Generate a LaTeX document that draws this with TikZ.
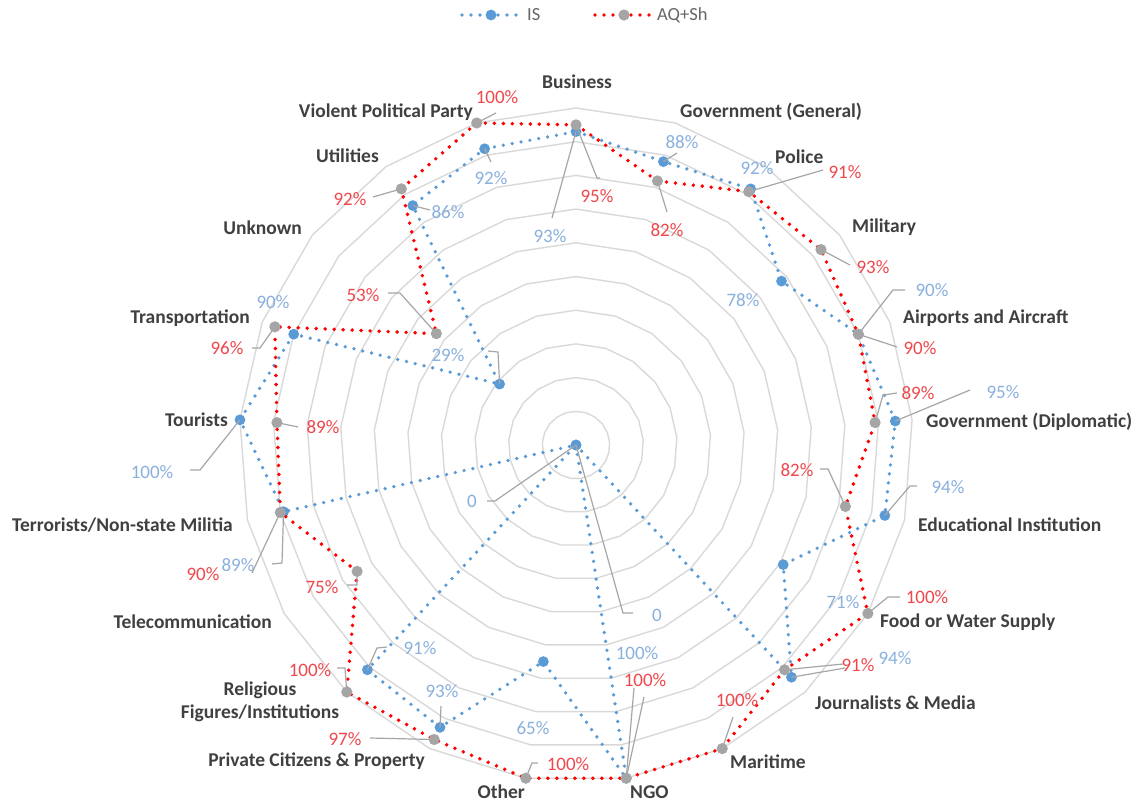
\documentclass[tikz,border=0pt]{standalone}
\usepackage{fontspec}
\setmainfont{Carlito}
\usetikzlibrary{calc}
\definecolor{isblue}{HTML}{5B9BD5}
\definecolor{aqred}{HTML}{FF0000}
\definecolor{aqgray}{HTML}{A5A5A5}
\definecolor{gridgray}{HTML}{D9D9D9}
\definecolor{leadgray}{HTML}{A6A6A6}
\definecolor{catcol}{HTML}{404040}
\definecolor{bluetxt}{HTML}{8AB0DE}
\definecolor{redtxt}{HTML}{F0474C}
\begin{document}
\begin{tikzpicture}[x=1pt,y=-1pt,
  gridline/.style={draw=gridgray,line width=1.4pt},
  isline/.style={draw=isblue,line width=3.7pt,line cap=round,dash pattern=on 0pt off 9pt},
  aqline/.style={draw=aqred,line width=3.9pt,line cap=round,dash pattern=on 0pt off 9pt},
  leader/.style={draw=leadgray,line width=1.2pt},
  cat/.style={font=\fontsize{19.5}{23}\selectfont\bfseries,text=catcol,inner sep=0pt,align=center},
  pb/.style={font=\fontsize{19}{22}\selectfont,text=bluetxt,inner sep=0pt},
  pr/.style={font=\fontsize{19}{22}\selectfont,text=redtxt,inner sep=0pt},
  legtxt/.style={font=\fontsize{18.5}{20}\selectfont,text=black!60,inner sep=0pt}]
\useasboundingbox (0,0) rectangle (1140,803);
\fill[white] (0,0) rectangle (1140,803);
\coordinate (C) at (576,445);
% grid rings
\foreach \k in {1,...,10}
  \draw[gridline,shift={(C)}] (90:{\k*33.7pt}) \foreach \i in {1,...,20} {-- ({90-\i*360/21}:{\k*33.7pt})} -- cycle;
% data coordinates
\foreach \v [count=\i from 0] in {93,88,92,78,90,95,94,71,94,0,100,65,93,91,0,89,100,90,29,86,92}
  \coordinate (b\i) at ($(C)+({90-\i*360/21}:{\v*3.37pt})$);
\foreach \v [count=\i from 0] in {95,82,91,93,90,89,82,100,91,100,100,100,97,100,75,90,89,96,53,92,100}
  \coordinate (r\i) at ($(C)+({90-\i*360/21}:{\v*3.37pt})$);
% IS series
\draw[isline] (b0) -- (b1) -- (b2) -- (b3) -- (b4) -- (b5) -- (b6) -- (b7) -- (b8) -- (b9) -- (b10) -- (b11) -- (b12) -- (b13) -- (b14) -- (b15) -- (b16) -- (b17) -- (b18) -- (b19) -- (b20) -- cycle;
\foreach \i in {0,...,20} \fill[isblue] (b\i) circle (5.4pt);
% AQ+Sh series
\draw[aqline] (r0) -- (r1) -- (r2) -- (r3) -- (r4) -- (r5) -- (r6) -- (r7) -- (r8) -- (r9) -- (r10) -- (r11) -- (r12) -- (r13) -- (r14) -- (r15) -- (r16) -- (r17) -- (r18) -- (r19) -- (r20) -- cycle;
\foreach \i in {0,...,20} \fill[aqgray] (r\i) circle (5.6pt);
% category labels
\node[cat] (cBus) at (577,82) {Business};
\node[cat,anchor=west] (cGovG) at (680,112) {Government (General)};
\node[cat,anchor=west] (cPol) at (775,157) {Police};
\node[cat,anchor=west] (cMil) at (852,227) {Military};
\node[cat,anchor=west] (cAir) at (903,318) {Airports and Aircraft};
\node[cat,anchor=west] (cGovD) at (926,422) {Government (Diplomatic)};
\node[cat,anchor=west] (cEdu) at (918,525) {Educational Institution};
\node[cat,anchor=west] (cFood) at (880,622) {Food or Water Supply};
\node[cat,anchor=west] (cJour) at (815,703) {Journalists \& Media};
\node[cat,anchor=west] (cMar) at (730,762) {Maritime};
\node[cat,anchor=west] (cNGO) at (630,792) {NGO};
\node[cat,anchor=east] (cOth) at (525,792) {Other};
\node[cat,anchor=east] (cPriv) at (425,761) {Private Citizens \& Property};
\node[cat] (cRel) at (260,702) {Religious\\Figures/Institutions};
\node[cat,anchor=east] (cTel) at (272,622) {Telecommunication};
\node[cat,anchor=east] (cTer) at (233,525) {Terrorists/Non-state Militia};
\node[cat,anchor=east] (cTou) at (228,420) {Tourists};
\node[cat,anchor=east] (cTra) at (250,318) {Transportation};
\node[cat,anchor=east] (cUnk) at (302,228) {Unknown};
\node[cat,anchor=east] (cUti) at (379,156) {Utilities};
\node[cat,anchor=east] (cVio) at (473,112) {Violent Political Party};
% IS value labels
\node[pb] (lb0) at (550,236) {93\%};
\node[pb] (lb1) at (682,142) {88\%};
\node[pb] (lb2) at (757,168) {92\%};
\node[pb] (lb3) at (743,300) {78\%};
\node[pb] (lb4) at (932,290) {90\%};
\node[pb] (lb5) at (1003,392) {95\%};
\node[pb] (lb6) at (948,487) {94\%};
\node[pb] (lb7) at (843,602) {71\%};
\node[pb] (lb8) at (895,658) {94\%};
\node[pb] (lb9) at (657,615) {0};
\node[pb] (lb10) at (637,653) {100\%};
\node[pb] (lb11) at (533,728) {65\%};
\node[pb] (lb12) at (442,691) {93\%};
\node[pb] (lb13) at (420,648) {91\%};
\node[pb] (lb14) at (472,501) {0};
\node[pb] (lb15) at (238,565) {89\%};
\node[pb] (lb16) at (152,472) {100\%};
\node[pb] (lb17) at (273,302) {90\%};
\node[pb] (lb18) at (448,355) {29\%};
\node[pb] (lb19) at (448,212) {86\%};
\node[pb] (lb20) at (491,178) {92\%};
% AQ+Sh value labels
\node[pr] (lr0) at (597,196) {95\%};
\node[pr] (lr1) at (667,230) {82\%};
\node[pr] (lr2) at (845,172) {91\%};
\node[pr] (lr3) at (873,267) {93\%};
\node[pr] (lr4) at (920,348) {90\%};
\node[pr] (lr5) at (918,393) {89\%};
\node[pr] (lr6) at (797,470) {82\%};
\node[pr] (lr7) at (927,597) {100\%};
\node[pr] (lr8) at (858,665) {91\%};
\node[pr] (lr9) at (737,700) {100\%};
\node[pr] (lr10) at (645,680) {100\%};
\node[pr] (lr11) at (568,764) {100\%};
\node[pr] (lr12) at (345,739) {97\%};
\node[pr] (lr13) at (310,670) {100\%};
\node[pr] (lr14) at (322,587) {75\%};
\node[pr] (lr15) at (203,574) {90\%};
\node[pr] (lr16) at (323,427) {89\%};
\node[pr] (lr17) at (227,348) {96\%};
\node[pr] (lr18) at (363,295) {53\%};
\node[pr] (lr19) at (350,199) {92\%};
\node[pr] (lr20) at (497,97) {100\%};
% leader lines
\draw[leader] (b0) -- (552,218);
\draw[leader] (b1) -- (677,153);
\draw[leader] (b4) -- (893,290) -- (905,290);
\draw[leader] (b5) -- (970,390);
\draw[leader] (b6) -- (910,486) -- (917,486);
\draw[leader] (b8) -- (845,668);
\draw[leader] (b9) -- (623,613) -- (633,613);
\draw[leader] (b10) -- (634,688);
\draw[leader] (b12) -- (441,706);
\draw[leader] (b13) -- (377,648) -- (387,647);
\draw[leader] (b14) -- (495,501) -- (487,501);
\draw[leader] (b15) -- (282,563) -- (272,564);
\draw[leader] (b16) -- (200,470) -- (190,470);
\draw[leader] (b18) -- (498,352) -- (488,351);
\draw[leader] (b19) -- (430,210);
\draw[leader] (b20) -- (491,162);
\draw[leader] (r0) -- (597,178) -- (600,178);
\draw[leader] (r1) -- (667,212);
\draw[leader] (r2) -- (823,170);
\draw[leader] (r3) -- (850,265);
\draw[leader] (r4) -- (897,347);
\draw[leader] (r5) -- (883,395) -- (897,393);
\draw[leader] (r6) -- (828,469) -- (820,469);
\draw[leader] (r7) -- (888,597) -- (900,597);
\draw[leader] (r8) -- (843,664);
\draw[leader] (r9) -- (733,717);
\draw[leader] (r10) -- (644,697);
\draw[leader] (r11) -- (532,763) -- (538,763);
\draw[leader] (r12) -- (370,738);
\draw[leader] (r13) -- (345,668) -- (337,668);
\draw[leader] (r14) -- (357,585) -- (347,585);
\draw[leader] (r15) -- (252,573);
\draw[leader] (r16) -- (298,427);
\draw[leader] (r17) -- (260,348) -- (252,348);
\draw[leader] (r18) -- (400,293) -- (388,293);
\draw[leader] (r19) -- (373,197);
\draw[leader] (r20) -- (496,113);
% legend
\coordinate (lgA) at (462,15); \coordinate (lgB) at (521,15); \coordinate (lgM) at (491,15);
\draw[isline] (lgA) -- (lgB);
\fill[isblue] (lgM) circle (5.4pt);
\node[legtxt,anchor=west] (legIS) at (527,15) {IS};
\coordinate (lgC) at (595,15); \coordinate (lgD) at (653,15); \coordinate (lgN) at (624,15);
\draw[aqline] (lgC) -- (lgD);
\fill[aqgray] (lgN) circle (5.6pt);
\node[legtxt,anchor=west] (legAQ) at (657,15) {AQ+Sh};
\end{tikzpicture}
\end{document}
